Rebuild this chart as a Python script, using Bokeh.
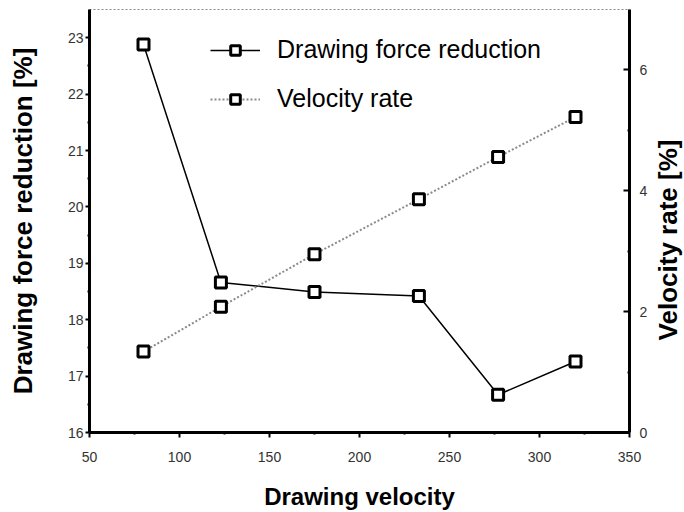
import math
from bokeh.plotting import figure
from bokeh.layouts import row
from bokeh.models import Range1d, LinearAxis, FixedTicker, Legend, LegendItem
from bokeh.core.properties import value
from bokeh.embed import file_html
from bokeh.resources import INLINE

# ---- data ----
velocity = [80, 123, 175, 233, 277, 320]
force_reduction = [22.88, 18.66, 18.49, 18.42, 16.67, 17.26]
velocity_rate = [1.34, 2.08, 2.95, 3.86, 4.56, 5.22]

x_ticks = [50, 100, 150, 200, 250, 300, 350]
x_minor = [75, 125, 175, 225, 275, 325]
left_ticks = [16, 17, 18, 19, 20, 21, 22, 23]
left_minor = [16.5, 17.5, 18.5, 19.5, 20.5, 21.5, 22.5]
right_ticks = [0, 2, 4, 6]
right_minor = [1, 3, 5]

TICK_FONT = "Liberation Sans"
TITLE_FONT = "Liberation Sans"

p = figure(width=652, height=512, output_backend="svg", toolbar_location=None,
           x_range=Range1d(50, 350), y_range=Range1d(16, 23.5),
           min_border_left=89, min_border_right=23, min_border_top=9, min_border_bottom=79)
p.extra_y_ranges = {"rate": Range1d(0, 7)}
p.grid.visible = False
p.background_fill_color = "white"
p.border_fill_color = "white"
p.outline_line_color = "#888888"
p.outline_line_dash = "2 2"
p.outline_line_width = 1


def style_axis(ax, inward=False):
    ax.axis_line_width = 3
    ax.axis_line_color = "black"
    ax.major_tick_line_width = 2
    ax.major_tick_line_color = "black"
    ax.minor_tick_line_width = 2
    ax.minor_tick_line_color = "black"
    if inward:
        ax.major_tick_in = 6
        ax.major_tick_out = 0
        ax.minor_tick_in = 2
        ax.minor_tick_out = 0
    else:
        ax.major_tick_in = 0
        ax.major_tick_out = 5
        ax.minor_tick_in = 0
        ax.minor_tick_out = 2
    ax.major_label_text_font = TICK_FONT
    ax.major_label_text_font_size = "14px"
    ax.major_label_text_color = "#333333"
    ax.axis_label_text_font = TITLE_FONT
    ax.axis_label_text_font_style = "bold"
    ax.axis_label_text_color = "black"


xa = p.xaxis[0]
xa.ticker = FixedTicker(ticks=x_ticks, minor_ticks=x_minor)
style_axis(xa)
xa.axis_label = "Drawing velocity"
xa.axis_label_text_font_size = "24px"
xa.major_label_standoff = 14
xa.axis_label_standoff = 18

ya = p.yaxis[0]
ya.ticker = FixedTicker(ticks=left_ticks, minor_ticks=left_minor)
style_axis(ya)
ya.major_tick_out = 4
ya.axis_label = "Drawing force reduction [%]"
ya.axis_label_text_font_size = "26px"
ya.major_label_standoff = 2
ya.axis_label_standoff = 27

ra = LinearAxis(y_range_name="rate", ticker=FixedTicker(ticks=right_ticks, minor_ticks=right_minor))
style_axis(ra, inward=True)
ra.major_label_standoff = 10
p.add_layout(ra, "right")

# series
l1 = p.line(velocity, force_reduction, line_color="black", line_width=1.5)
s1 = p.scatter(velocity, force_reduction, marker="square", size=11,
               fill_color="white", line_color="black", line_width=3)
l2 = p.line(velocity, velocity_rate, y_range_name="rate", line_color="#8a8a8a",
            line_width=2, line_dash="2 2")
s2 = p.scatter(velocity, velocity_rate, y_range_name="rate", marker="square", size=11,
               fill_color="white", line_color="black", line_width=3)

legend = Legend(items=[LegendItem(label="Drawing force reduction", renderers=[l1, s1]),
                       LegendItem(label="Velocity rate", renderers=[l2, s2])],
                location=(121, 319), border_line_color=None, background_fill_alpha=0,
                padding=0, margin=0, spacing=20, glyph_width=50, glyph_height=24,
                label_height=24, label_standoff=17, label_text_font_size="25px",
                label_text_font=TITLE_FONT, label_text_color="black")
p.add_layout(legend)

# right-axis title panel (reads bottom-to-top like the reference)
p2 = figure(width=32, height=512, output_backend="svg", toolbar_location=None,
            x_range=Range1d(0, 32), y_range=Range1d(0, 512),
            x_axis_location=None, y_axis_location=None, min_border=0)
p2.grid.visible = False
p2.outline_line_color = None
p2.background_fill_color = "white"
p2.border_fill_color = "white"
p2.text(x=[15], y=[233], text=["Velocity rate [%]"], angle=math.pi / 2,
        text_align="center", text_baseline="middle", text_font=value(TITLE_FONT),
        text_font_style="bold", text_font_size="26px", text_color="black")

layout = row(p, p2, spacing=0)
open("out.html", "w").write(file_html(layout, INLINE))
